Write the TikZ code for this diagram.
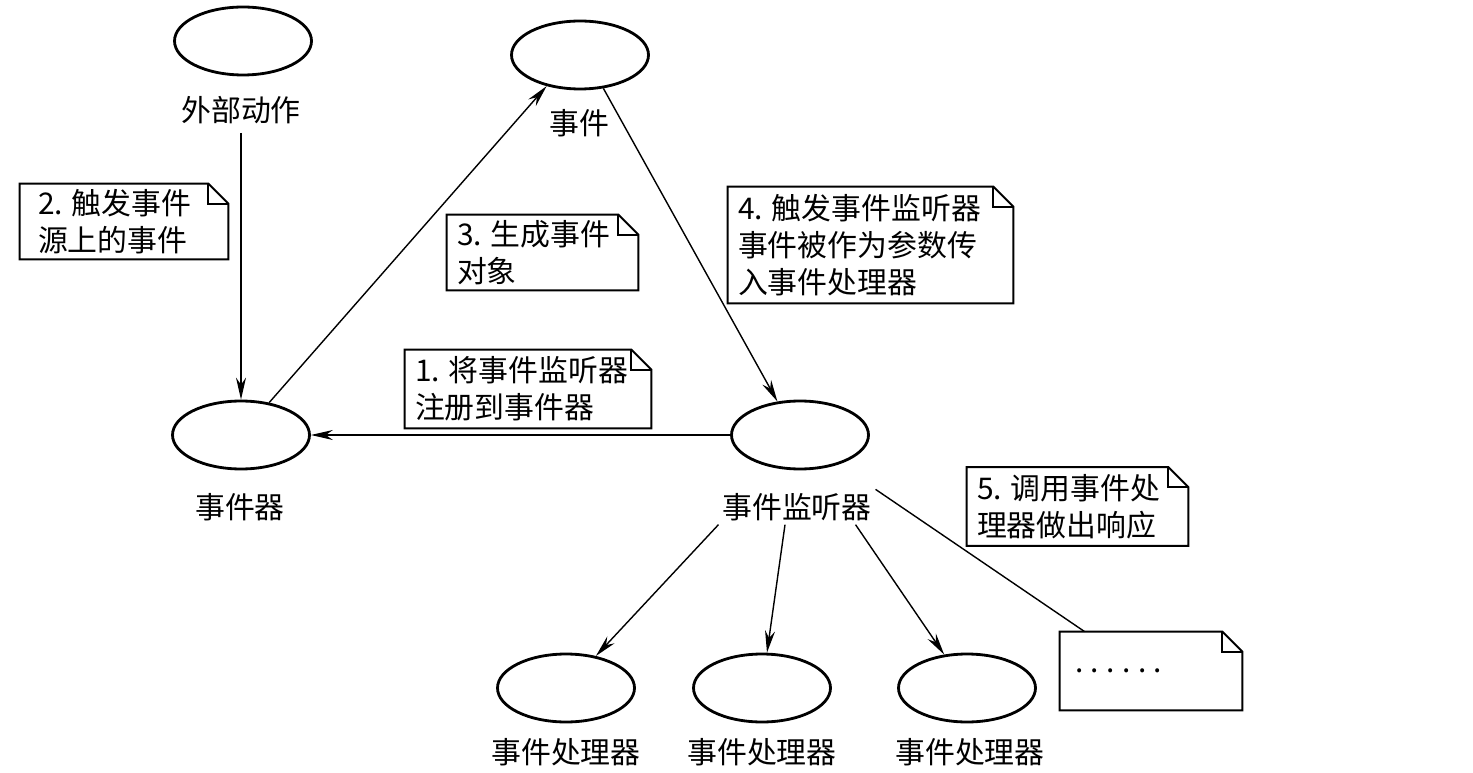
\documentclass[tikz,border=0pt]{standalone}
\usepackage{fontspec}
\usepackage{tikz}
\usetikzlibrary{shapes.geometric, arrows.meta}
\newfontfamily\cjk{Noto Sans CJK SC}

\tikzset{
  obj/.style = {draw, ellipse, line width=1.6pt, minimum width=2.74cm, minimum height=1.36cm},
  lab/.style = {font=\cjk\fontsize{17}{21}\selectfont, inner sep=2pt},
  note/.style = {font=\cjk\fontsize{17}{21}\selectfont, align=left, inner xsep=0.2cm, inner ysep=0pt},
  flow/.style = {line width=0.8pt, -{Stealth[length=0.44cm, width=0.2cm]}},
}
% note outline with folded corner
\newcommand{\dogear}[1]{%
  \draw[line width=1.1pt] (#1.north west) -- ([xshift=-0.4cm]#1.north east) --
        ([yshift=-0.4cm]#1.north east) -- (#1.south east) -- (#1.south west) -- cycle;
  \draw[line width=1.1pt] ([xshift=-0.4cm]#1.north east) |- ([yshift=-0.4cm]#1.north east);
}
\newcommand{\stepno}[1]{#1.\hspace{0.3em}}

\begin{document}
\begin{tikzpicture}[x = 0.02cm, y = -0.02cm]
        \useasboundingbox (0,0) rectangle (1473,773);

        % objects
        \node[obj] (act) at (243,41) {};
        \node[obj] (evt) at (580,55) {};
        \node[obj] (src) at (241,435) {};
        \node[obj] (lis) at (800,435) {};
        \node[obj] (h1) at (566,688) {};
        \node[obj] (h2) at (762,688) {};
        \node[obj] (h3) at (967,688) {};

        \node[lab] (actlab) at (241,110) {外部动作};
        \node[lab] (evtlab) at (579,123) {事件};
        \node[lab] (srclab) at (240,507) {事件器};
        \node[lab] (lislab) at (797,507) {事件监听器};
        \node[lab] (h1lab) at (566,752) {事件处理器};
        \node[lab] (h2lab) at (762,752) {事件处理器};
        \node[lab] (h3lab) at (970,752) {事件处理器};

        % notes
        \node[note, inner xsep=0.36cm, text width=3.44cm, minimum height=1.5cm] (n2) at (124,221.5)
             {\stepno{2}触发事件\\源上的事件};
        \node[note, text width=3.42cm, minimum height=1.5cm] (n3) at (542.5,252.5)
             {\stepno{3}生成事件\\对象};
        \node[note, text width=5.3cm, minimum height=2.32cm] (n4) at (870.5,245)
             {\stepno{4}触发事件监听器\\事件被作为参数传\\入事件处理器};
        \node[note, text width=4.52cm, minimum height=1.56cm] (n1) at (528,389)
             {\stepno{1}将事件监听器\\注册到事件器};
        \node[note, text width=4.02cm, minimum height=1.56cm] (n5) at (1077.5,506.5)
             {\stepno{5}调用事件处\\理器做出响应};
        \node[note, inner xsep=0.3cm, text width=3.04cm, minimum height=1.56cm] (more) at (1151,671)
             {.\hspace{0.25em}.\hspace{0.25em}.\hspace{0.25em}.\hspace{0.25em}.\hspace{0.25em}.};
        \dogear{n1} \dogear{n2} \dogear{n3} \dogear{n4} \dogear{n5} \dogear{more}

        % connectors
        \draw[flow, shorten <=3pt] (actlab.south) -- (src.north);
        \draw[flow] (src.49) -- (evt.223);
        \draw[flow] (evt.305) -- (lis.124);
        \draw[flow] (lis.west) -- (src.east);
        \draw[flow] (lislab.south west) -- (h1);
        \draw[flow] ([xshift=-0.24cm]lislab.south) -- (h2);
        \draw[flow] ([xshift=-0.4cm]lislab.south east) -- (h3);
        \draw[line width=0.8pt] (lislab.north east) -- ([xshift=0.5cm]more.north west);
\end{tikzpicture}
\end{document}
